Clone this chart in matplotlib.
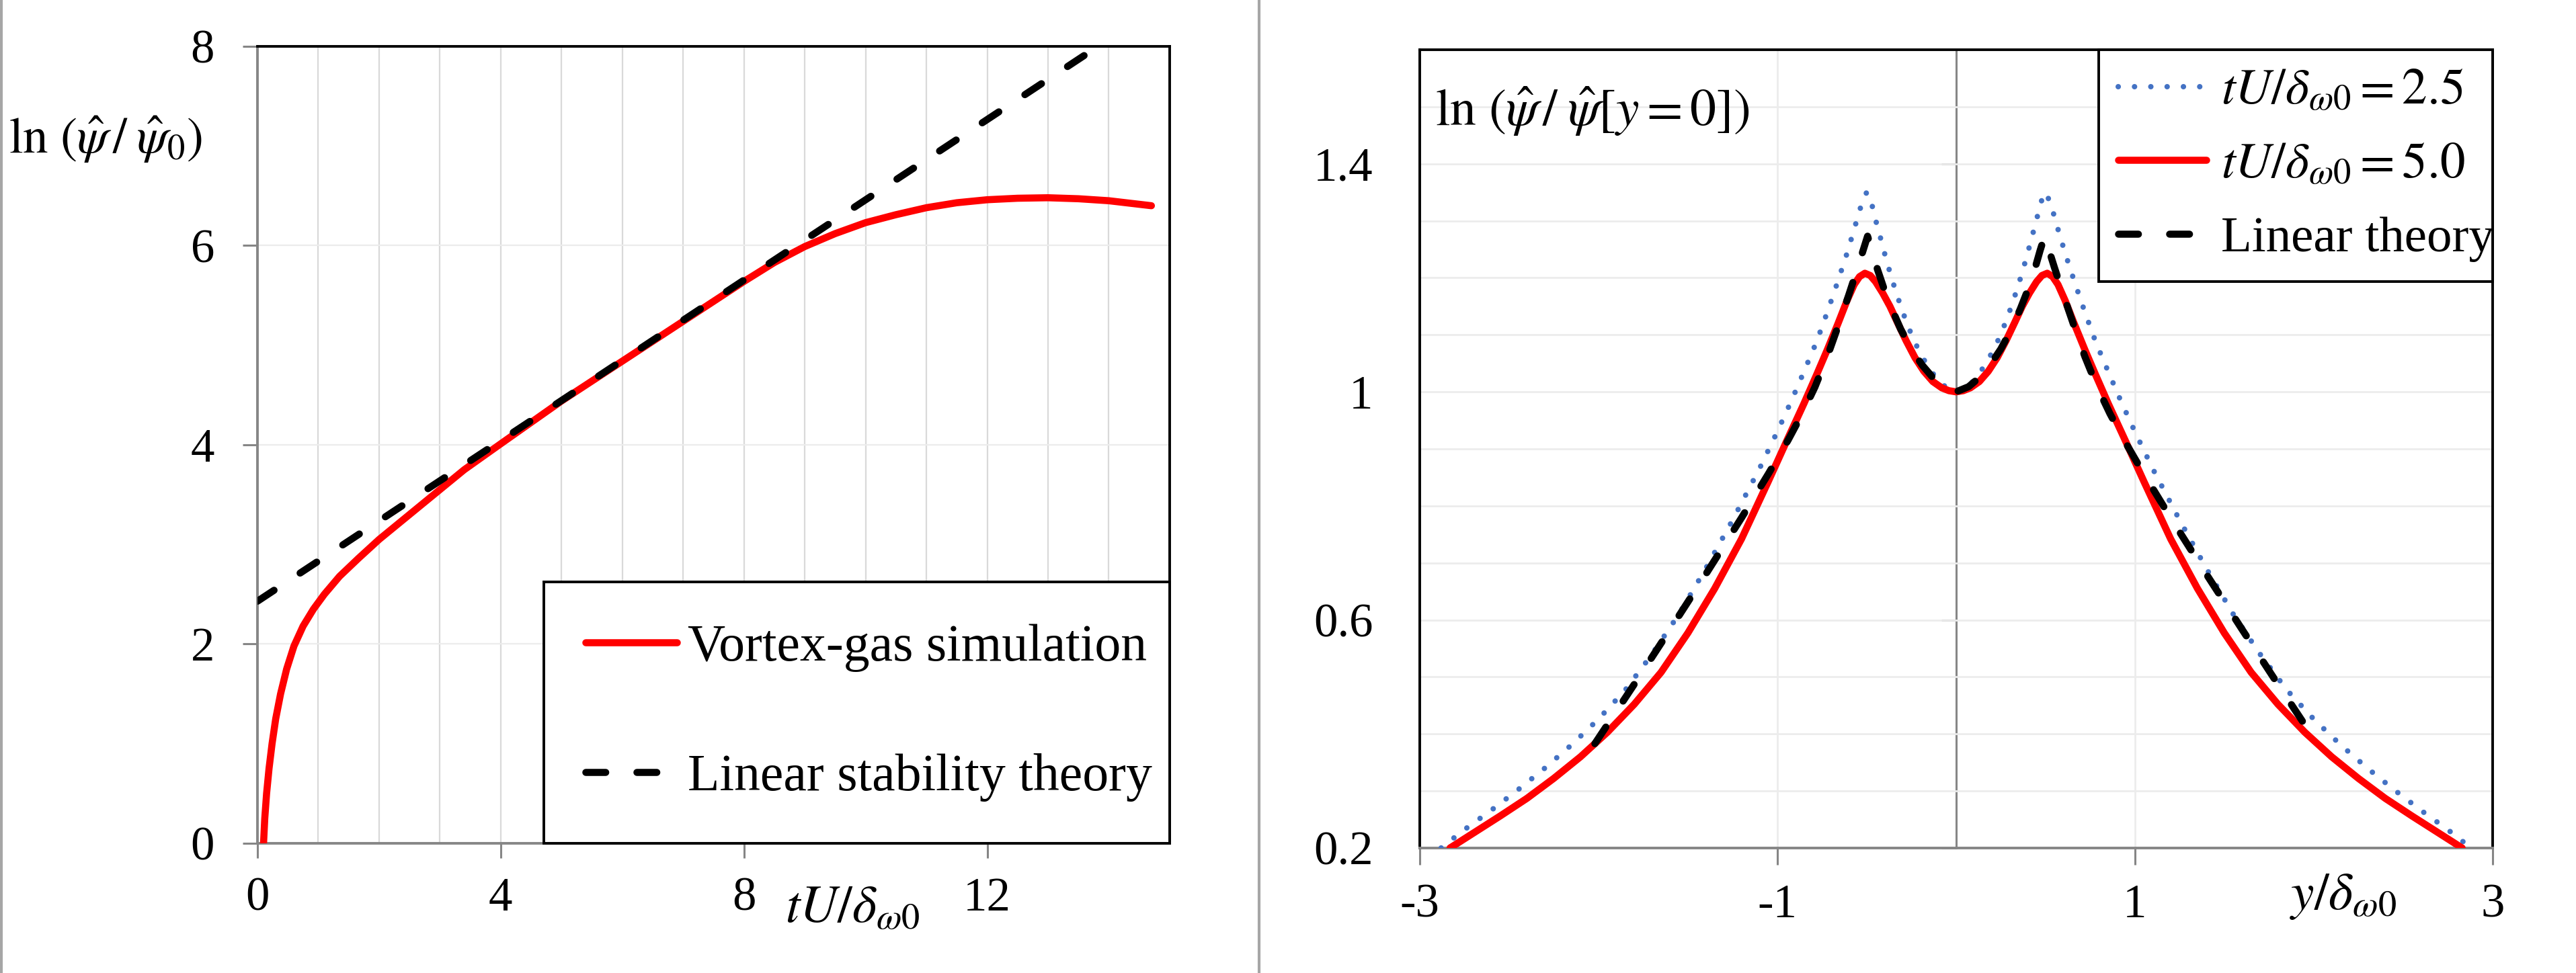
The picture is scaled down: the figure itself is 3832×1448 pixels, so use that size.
import matplotlib
matplotlib.use("Agg")
import matplotlib.pyplot as plt
from matplotlib.lines import Line2D
import matplotlib.transforms as mtransforms

plt.rcParams['font.family'] = ['Liberation Serif', 'DejaVu Serif']
plt.rcParams['mathtext.fontset'] = 'stix'

#### --- data: growth of the mode amplitude ---------------------

t_sim = [0.10, 0.12, 0.15, 0.19, 0.24, 0.30, 0.38, 0.48, 0.60, 0.75, 0.92, 1.10,
         1.35, 1.66, 2.0, 2.4, 2.8, 3.4, 4.0, 5.0, 6.0, 7.0, 8.0, 8.5, 9.0, 9.5,
         10.0, 10.5, 11.0, 11.5, 12.0, 12.5, 13.0, 13.5, 14.0, 14.7]
lnpsi_sim = [0.00, 0.25, 0.50, 0.75, 1.00, 1.25, 1.50, 1.75, 1.98, 2.18, 2.35, 2.50,
             2.68, 2.86, 3.05, 3.25, 3.45, 3.75, 4.01, 4.44, 4.84, 5.24, 5.64, 5.83,
             5.99, 6.12, 6.23, 6.31, 6.38, 6.43, 6.46, 6.475, 6.48, 6.47, 6.45, 6.40]

t_lin = [0.0, 13.7]
lnpsi_lin = [2.43, 7.95]

#### --- data: mode shape profiles ------------------------------

y_25 = [-2.88, -2.75, -2.60, -2.45, -2.30, -2.15, -2.00, -1.85, -1.70, -1.55, -1.40,
        -1.25, -1.10, -1.00, -0.92, -0.85, -0.78, -0.72, -0.66, -0.61, -0.57, -0.54,
        -0.515, -0.50, -0.485, -0.469, -0.447, -0.421, -0.40, -0.374, -0.348, -0.32,
        -0.29, -0.258, -0.223, -0.177, -0.132, -0.09, -0.045, 0.0,
        0.045, 0.09, 0.132, 0.177, 0.223, 0.258, 0.29, 0.32, 0.348, 0.374, 0.40,
        0.421, 0.447, 0.469, 0.485, 0.50, 0.515, 0.54, 0.57, 0.61, 0.66, 0.72, 0.78,
        0.85, 0.92, 1.00, 1.10, 1.25, 1.40, 1.55, 1.70, 1.85, 2.00, 2.15, 2.30, 2.45,
        2.60, 2.75, 2.88]
prof_25 = [0.200, 0.232, 0.266, 0.302, 0.340, 0.381, 0.426, 0.477, 0.540, 0.610, 0.690,
           0.775, 0.865, 0.930, 0.985, 1.036, 1.088, 1.140, 1.195, 1.243, 1.285, 1.318,
           1.340, 1.350, 1.342, 1.326, 1.298, 1.268, 1.243, 1.214, 1.187, 1.160,
           1.133, 1.107, 1.082, 1.055, 1.033, 1.017, 1.005, 1.000,
           1.005, 1.017, 1.033, 1.055, 1.082, 1.107, 1.133, 1.160, 1.187, 1.214, 1.243,
           1.268, 1.298, 1.326, 1.342, 1.350, 1.340, 1.318, 1.285, 1.243, 1.195, 1.140,
           1.088, 1.036, 0.985, 0.930, 0.865, 0.775, 0.690, 0.610, 0.540, 0.477, 0.426,
           0.381, 0.340, 0.302, 0.266, 0.232, 0.200]

y_50 = [-2.83, -2.70, -2.55, -2.40, -2.25, -2.10, -1.95, -1.80, -1.65, -1.50, -1.35,
        -1.20, -1.05, -0.95, -0.85, -0.78, -0.72, -0.66, -0.61, -0.57, -0.54, -0.51,
        -0.48, -0.45, -0.41, -0.37, -0.33, -0.28, -0.23, -0.18, -0.13, -0.08, -0.04, 0.0,
        0.04, 0.08, 0.13, 0.18, 0.23, 0.28, 0.33, 0.37, 0.41, 0.45, 0.48, 0.51, 0.54,
        0.57, 0.61, 0.66, 0.72, 0.78, 0.85, 0.95, 1.05, 1.20, 1.35, 1.50, 1.65, 1.80,
        1.95, 2.10, 2.25, 2.40, 2.55, 2.70, 2.83]
prof_50 = [0.200, 0.226, 0.256, 0.287, 0.322, 0.360, 0.403, 0.452, 0.508, 0.577, 0.655,
           0.742, 0.843, 0.912, 0.980, 1.030, 1.074, 1.120, 1.160, 1.188, 1.202, 1.208,
           1.204, 1.193, 1.173, 1.150, 1.123, 1.090, 1.060, 1.036, 1.018, 1.007, 1.002, 1.000,
           1.002, 1.007, 1.018, 1.036, 1.060, 1.090, 1.123, 1.150, 1.173, 1.193, 1.204,
           1.208, 1.202, 1.188, 1.160, 1.120, 1.074, 1.030, 0.980, 0.912, 0.843, 0.742,
           0.655, 0.577, 0.508, 0.452, 0.403, 0.360, 0.322, 0.287, 0.256, 0.226, 0.200]

y_lin = [-2.02, -1.80, -1.60, -1.40, -1.20, -1.05, -0.94, -0.86, -0.79, -0.72, -0.66,
         -0.60, -0.55, -0.495, -0.47, -0.44, -0.40, -0.36, -0.31, -0.25, -0.19, -0.13,
         -0.07, 0.0,
         0.07, 0.13, 0.19, 0.25, 0.31, 0.36, 0.40, 0.44, 0.47, 0.495, 0.55, 0.60, 0.66,
         0.72, 0.79, 0.86, 0.94, 1.05, 1.20, 1.40, 1.60, 1.80, 2.02]
prof_lin = [0.383, 0.487, 0.583, 0.680, 0.779, 0.856, 0.915, 0.962, 1.008, 1.062, 1.115,
            1.170, 1.218, 1.273, 1.248, 1.215, 1.178, 1.146, 1.110, 1.075, 1.047, 1.025,
            1.009, 1.000,
            1.009, 1.025, 1.047, 1.075, 1.110, 1.146, 1.178, 1.215, 1.248, 1.273, 1.218,
            1.170, 1.115, 1.062, 1.008, 0.962, 0.915, 0.856, 0.779, 0.680, 0.583, 0.487,
            0.383]

left_xticks = [0, 4, 8, 12]
left_yticks = [0, 2, 4, 6, 8]
right_xticks = [-3, -1, 1, 3]
right_xlabels = ['-3', '-1', '1', '3']
right_yticks = [0.2, 0.6, 1.0, 1.4]
right_ylabels = ['0.2', '0.6', '1', '1.4']

#### --- style ----------------------------------------------------

RED = '#ff0000'
BLUE = '#4472c4'
AXGRAY = '#868686'
GRID = '#d9d9d9'
GRID_LIGHT = '#ececec'
FS_TICK = 51
FS_TEXT = 56
LW = 7.6
DASH = (0, (2.8, 4.4))

fig = plt.figure(figsize=(38.32, 14.48), dpi=100)

# frame lines of the screenshot
fig.add_artist(Line2D([0.0006, 0.0006], [0, 1], transform=fig.transFigure, color='#a6a6a6', lw=3))
fig.add_artist(Line2D([0.4888, 0.4888], [0, 1], transform=fig.transFigure, color='#a6a6a6', lw=3))

#### --- left panel -------------------------------------------------

ax1 = fig.add_axes([0.09995, 0.1333, 0.3541, 0.8191])
ax1.set_xlim(0, 15)
ax1.set_ylim(0, 8)
ax1.set_xticks(left_xticks)
ax1.set_xticks(range(1, 15), minor=True)
ax1.set_yticks(left_yticks)
ax1.tick_params(axis='both', which='major', labelsize=FS_TICK, direction='out',
                length=16, width=2.2, color=AXGRAY)
ax1.tick_params(axis='x', which='major', pad=20)
ax1.tick_params(axis='y', which='major', pad=30)
ax1.tick_params(axis='x', which='minor', length=0)
ax1.grid(True, axis='x', which='both', color=GRID, lw=1.6)
ax1.grid(True, axis='y', which='major', color=GRID_LIGHT, lw=1.6)
ax1.set_axisbelow(True)
for s in ['left', 'bottom']:
    ax1.spines[s].set_color(AXGRAY)
    ax1.spines[s].set_linewidth(2.8)
for s in ['top', 'right']:
    ax1.spines[s].set_color('black')
    ax1.spines[s].set_linewidth(2.8)

ax1.plot(t_sim, lnpsi_sim, color=RED, lw=LW, solid_capstyle='round',
         solid_joinstyle='round', label='Vortex-gas simulation', zorder=3)
ax1.plot(t_lin, lnpsi_lin, color='black', lw=LW, ls=DASH,
         dash_capstyle='round', label='Linear stability theory', zorder=4)

leg1 = ax1.legend(loc='lower left', bbox_to_anchor=(0.314, 0.0, 0.686, 0.327),
                  mode='expand', borderaxespad=0, fontsize=FS_TEXT, frameon=True,
                  fancybox=False, framealpha=1, edgecolor='black',
                  handlelength=1.75, handletextpad=0.2, labelspacing=1.55,
                  borderpad=0.8)
leg1.get_frame().set_linewidth(2.8)
leg1.set_zorder(5)

ax1.text(-0.273, 0.883, r'$\ln\,(\hat{\psi}\,/\;\hat{\psi}_0)$', transform=ax1.transAxes,
         ha='left', va='center', fontsize=FS_TEXT - 2)
trans1 = mtransforms.blended_transform_factory(ax1.transData, ax1.transAxes)
ax1.text(9.78, -0.083, r'$tU/\delta_{\omega 0}$', transform=trans1,
         ha='center', va='center', fontsize=FS_TEXT)

#### --- right panel ------------------------------------------------

ax2 = fig.add_axes([0.5511, 0.1285, 0.4165, 0.8204])
ax2.set_xlim(-3, 3)
ax2.set_ylim(0.2, 1.6)
ax2.set_xticks(right_xticks)
ax2.set_xticklabels(right_xlabels)
ax2.set_yticks(right_yticks)
ax2.set_yticklabels(right_ylabels)
ax2.set_yticks([0.3, 0.4, 0.5, 0.7, 0.8, 0.9, 1.1, 1.2, 1.3, 1.5], minor=True)
ax2.tick_params(axis='x', which='major', labelsize=FS_TICK, direction='out',
                length=18, width=2.2, color=AXGRAY, pad=20)
ax2.tick_params(axis='y', which='both', labelsize=FS_TICK, length=0, pad=50)
ax2.grid(True, axis='y', which='both', color=GRID_LIGHT, lw=2.0)
ax2.grid(True, axis='x', which='major', color=GRID_LIGHT, lw=2.0)
ax2.set_axisbelow(True)
for s in ['left', 'top', 'right']:
    ax2.spines[s].set_color('black')
    ax2.spines[s].set_linewidth(2.8)
ax2.spines['bottom'].set_color(AXGRAY)
ax2.spines['bottom'].set_linewidth(2.8)

# vertical axis crossing at y = 0
sec = ax2.secondary_yaxis(0.5)
sec.set_alignment('left')
sec.set_yticks(right_yticks)
sec.set_yticklabels([])
sec.tick_params(axis='y', direction='out', length=16, width=2.2, color=AXGRAY)
sec.spines['left'].set_color(AXGRAY)
sec.spines['left'].set_linewidth(2.2)

ax2.plot(y_25, prof_25, color=BLUE, lw=5.8, ls=(0, (0.01, 3.0)), dash_capstyle='round',
         label=r'$tU/\delta_{\omega 0} = 2.5$', zorder=3)
ax2.plot(y_50, prof_50, color=RED, lw=LW, solid_capstyle='round', solid_joinstyle='round',
         label=r'$tU/\delta_{\omega 0} = 5.0$', zorder=4)
ax2.plot(y_lin, prof_lin, color='black', lw=LW, ls=DASH,
         dash_capstyle='round', label='Linear theory', zorder=5)

leg2 = ax2.legend(loc='upper left', bbox_to_anchor=(0.633, 0.707, 0.367, 0.293),
                  mode='expand', borderaxespad=0, fontsize=FS_TEXT - 2, frameon=True,
                  fancybox=False, framealpha=1, edgecolor='black',
                  handlelength=1.75, handletextpad=0.3, labelspacing=0.55,
                  borderpad=0.38)
leg2.get_frame().set_linewidth(2.8)
leg2.set_zorder(6)

ax2.text(0.0144, 0.9226, r'$\ln\,(\hat{\psi}\,/\;\hat{\psi}[y=0])$', transform=ax2.transAxes,
         ha='left', va='center', fontsize=FS_TEXT)
trans2 = mtransforms.blended_transform_factory(ax2.transData, ax2.transAxes)
ax2.text(2.165, -0.061, r'$y/\delta_{\omega 0}$', transform=trans2,
         ha='center', va='center', fontsize=FS_TEXT)

fig.savefig('out.png', dpi=100)
